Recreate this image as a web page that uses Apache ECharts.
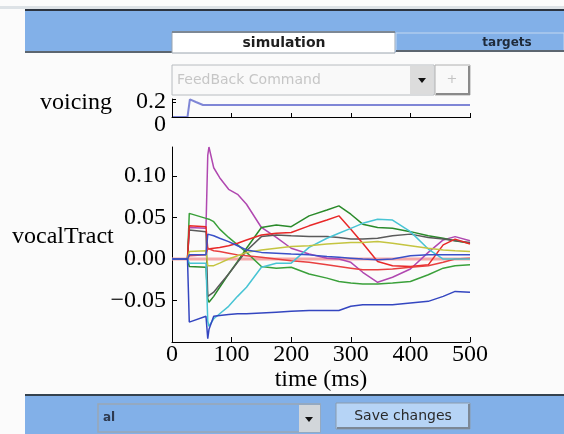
<!DOCTYPE html>
<html>
<head>
<meta charset="utf-8">
<script src="https://cdn.jsdelivr.net/npm/echarts@6/dist/echarts.min.js"></script>
<style>
  html, body { margin: 0; padding: 0; background: #fbfbfb; }
  #chart { width: 564px; height: 434px; }
</style>
</head>
<body>
<div id="chart"></div>
<script>
// time samples (ms) shared by the vocalTract traces
const timeMs = [0, 26, 29, 57, 60, 62, 70, 80, 95, 110, 125, 150, 175, 200, 230, 260, 280, 300, 320, 345, 370, 400, 430, 455, 475, 500];

const magenta = [0, 0, 0.038, 0.037, 0.125, 0.135, 0.110, 0.098, 0.084, 0.078, 0.066, 0.038, 0.026, 0.013, 0.006, 0.001, 0.0, -0.004, -0.016, -0.028, -0.022, -0.012, 0.008, 0.023, 0.027, 0.022];
const greenA  = [0, 0, 0.055, 0.049, 0.049, 0.048, 0.045, 0.036, 0.026, 0.017, 0.008, -0.009, -0.011, -0.010, -0.018, -0.023, -0.027, -0.029, -0.030, -0.030, -0.029, -0.027, -0.019, -0.011, -0.008, -0.007];
const greenB  = [0, 0, -0.009, -0.010, -0.048, -0.052, -0.045, -0.034, -0.018, -0.003, 0.013, 0.038, 0.041, 0.039, 0.052, 0.059, 0.064, 0.054, 0.042, 0.038, 0.037, 0.033, 0.028, 0.025, 0.022, 0.019];
const greyA   = [0, 0, 0.035, 0.033, -0.045, -0.047, -0.040, -0.031, -0.018, -0.004, 0.010, 0.027, 0.029, 0.028, 0.027, 0.027, 0.026, 0.024, 0.024, 0.025, 0.028, 0.030, 0.026, 0.024, 0.022, 0.020];
const redA    = [0, 0, 0.040, 0.039, 0.012, 0.012, 0.013, 0.014, 0.016, 0.019, 0.023, 0.029, 0.031, 0.032, 0.040, 0.047, 0.052, 0.036, 0.019, -0.003, -0.008, -0.009, -0.007, 0.017, 0.024, 0.018];
const redB    = [0, 0, 0.004, 0.005, 0.013, 0.012, 0.010, 0.009, 0.007, 0.005, 0.004, 0.002, 0.0, -0.002, -0.004, -0.007, -0.009, -0.011, -0.013, -0.013, -0.012, -0.010, -0.008, -0.004, 0.0, 0.001];
const cyanA   = [0, 0, -0.005, -0.005, -0.075, -0.081, -0.072, -0.066, -0.057, -0.045, -0.034, -0.010, -0.005, -0.005, 0.014, 0.025, 0.031, 0.037, 0.043, 0.048, 0.047, 0.033, 0.012, 0.0, 0.0, 0.0];
const oliveA  = [0, 0, 0.009, 0.010, -0.008, -0.010, -0.008, -0.005, 0.0, 0.004, 0.008, 0.011, 0.013, 0.015, 0.016, 0.018, 0.019, 0.020, 0.020, 0.021, 0.019, 0.016, 0.013, 0.011, 0.010, 0.009];
const blueA   = [0, 0, -0.076, -0.069, -0.096, -0.085, -0.069, -0.068, -0.067, -0.066, -0.066, -0.065, -0.064, -0.063, -0.062, -0.062, -0.062, -0.057, -0.055, -0.055, -0.055, -0.053, -0.051, -0.045, -0.039, -0.040];
const blueB   = [0, 0, 0.005, 0.005, 0.030, 0.031, 0.028, 0.025, 0.021, 0.016, 0.011, 0.008, 0.007, 0.006, 0.005, 0.003, 0.002, 0.001, 0.0, -0.001, 0.0, 0.004, 0.005, 0.005, 0.005, 0.005];

// target line at zero
const targetTime = [0, 500];
const targetValues = [0, 0];

// voicing trace
const voicingTime = [0, 26, 30, 40, 52, 500];
const voicingValues = [0, 0, 0.235, 0.2, 0.16, 0.16];

const xTicks = [0, 100, 200, 300, 400, 500];

const pair = (t, v) => t.map((x, i) => [x, v[i]]);

const traces = [
  { data: magenta, color: '#b048b0' },
  { data: greenA, color: '#3aa03a' },
  { data: greenB, color: '#2a8a2a' },
  { data: greyA, color: '#5a5a5a' },
  { data: redA, color: '#e82828' },
  { data: redB, color: '#e84040' },
  { data: cyanA, color: '#48c4d4' },
  { data: oliveA, color: '#c4c440' },
  { data: blueA, color: '#3446c0' },
  { data: blueB, color: '#3a50c8' }
];

const serif = 'Liberation Serif';
const blue = '#82b0e8';
const isNear = (a, b) => Math.abs(a - b) < 1e-9;

const chart = echarts.init(document.getElementById('chart'));

const series = [
  {
    type: 'line', xAxisIndex: 0, yAxisIndex: 0,
    data: pair(voicingTime, voicingValues),
    showSymbol: false, lineStyle: { color: '#7f86d6', width: 2 }, z: 3, animation: false
  },
  {
    type: 'line', xAxisIndex: 1, yAxisIndex: 1,
    data: pair(targetTime, targetValues),
    showSymbol: false, lineStyle: { color: '#f6a8a8', width: 3 }, z: 1, animation: false
  }
];
traces.forEach(tr => {
  series.push({
    type: 'line', xAxisIndex: 1, yAxisIndex: 1,
    data: pair(timeMs, tr.data),
    showSymbol: false,
    lineStyle: { color: tr.color, width: 1.5 },
    animation: false
  });
});

const option = {
  backgroundColor: '#fbfbfb',
  animation: false,
  grid: [
    { left: 172, right: 94, top: 99, height: 18 },
    { left: 172, right: 94, top: 147, height: 195 }
  ],
  xAxis: [
    {
      gridIndex: 0, type: 'value', min: 0, max: 500, interval: 100,
      axisLine: { show: true, onZero: false, lineStyle: { color: '#000', width: 1 } },
      axisTick: { show: true, inside: true, length: 4, lineStyle: { color: '#000' } },
      axisLabel: { show: false },
      splitLine: { show: false }
    },
    {
      gridIndex: 1, type: 'value', min: xTicks[0], max: xTicks[xTicks.length - 1], interval: 100,
      axisLine: { show: true, onZero: false, lineStyle: { color: '#000', width: 1 } },
      axisTick: { show: true, inside: true, length: 5, lineStyle: { color: '#000' } },
      axisLabel: { color: '#000', fontFamily: serif, fontSize: 24, margin: 1 },
      splitLine: { show: false },
      name: 'time (ms)', nameLocation: 'middle', nameGap: 26,
      nameTextStyle: { color: '#000', fontFamily: serif, fontSize: 24 }
    }
  ],
  yAxis: [
    // voicing axis, carries the 0.2 label
    {
      gridIndex: 0, type: 'value', min: 0, max: 0.24, interval: 0.2,
      axisLine: { show: true, onZero: false, lineStyle: { color: '#000', width: 1 } },
      axisTick: { show: true, inside: true, length: 4, lineStyle: { color: '#000' } },
      axisLabel: {
        showMaxLabel: true, showMinLabel: false, margin: 6,
        color: '#000', fontFamily: serif, fontSize: 24, padding: [6, 0, 0, 0],
        formatter: v => isNear(v, 0.2) ? '0.2' : ''
      },
      splitLine: { show: false }
    },
    {
      gridIndex: 1, type: 'value', min: -0.1, max: 0.135, interval: 0.05,
      axisLine: { show: true, onZero: false, lineStyle: { color: '#000', width: 1 } },
      axisTick: { show: true, inside: true, length: 5, lineStyle: { color: '#000' } },
      axisLabel: {
        color: '#000', fontFamily: serif, fontSize: 24, margin: 6,
        showMinLabel: false, showMaxLabel: false,
        formatter: v => (v < 0 ? '\u2212' : '') + Math.abs(v).toFixed(2)
      },
      splitLine: { show: false }
    },
    // same voicing scale, only used for the 0 label (sits a little lower, as in the original)
    {
      gridIndex: 0, type: 'value', min: 0, max: 0.24, interval: 0.2, position: 'left',
      axisLine: { show: false }, axisTick: { show: false },
      axisLabel: {
        showMinLabel: true, showMaxLabel: false, margin: 6,
        color: '#000', fontFamily: serif, fontSize: 24, verticalAlign: 'top', padding: [-4, 0, 0, 0],
        formatter: v => v === 0 ? '0' : ''
      },
      splitLine: { show: false }
    }
  ],
  graphic: [
    // top strip and tab bar
    { type: 'rect', shape: { x: 0, y: 6, width: 564, height: 3 }, style: { fill: '#dde2e6' } },
    { type: 'rect', shape: { x: 25, y: 9, width: 539, height: 2 }, style: { fill: '#2c3440' } },
    { type: 'rect', shape: { x: 25, y: 11, width: 539, height: 41 }, style: { fill: blue } },
    { type: 'rect', shape: { x: 25, y: 51, width: 148, height: 2 }, style: { fill: '#5c6670' } },
    { type: 'rect', shape: { x: 172, y: 32, width: 223, height: 21 }, style: { fill: '#ffffff', stroke: '#9aa4ae', lineWidth: 1 } },
    { type: 'rect', shape: { x: 172, y: 31, width: 223, height: 2 }, style: { fill: '#7d8894' } },
    { type: 'text', style: { text: 'simulation', x: 284, y: 43, align: 'center', verticalAlign: 'middle', fill: '#1e1e1e', font: 'bold 14px "DejaVu Sans"' } },
    { type: 'rect', shape: { x: 396, y: 33, width: 168, height: 18 }, style: { fill: blue, stroke: '#c4d8f0', lineWidth: 1 } },
    { type: 'rect', shape: { x: 396, y: 50, width: 168, height: 2 }, style: { fill: '#5c6670' } },
    { type: 'text', style: { text: 'targets', x: 507, y: 43, align: 'center', verticalAlign: 'middle', fill: '#1e2a3a', font: 'bold 12px "DejaVu Sans"' } },

    // feedback dropdown
    { type: 'rect', shape: { x: 172, y: 65, width: 262, height: 30 }, style: { fill: '#f9f9f9', stroke: '#b8bcc0', lineWidth: 1 } },
    { type: 'text', style: { text: 'FeedBack Command', x: 177, y: 80, align: 'left', verticalAlign: 'middle', fill: '#c6c6c6', font: '14px "DejaVu Sans"' } },
    { type: 'rect', shape: { x: 410, y: 66, width: 23, height: 28 }, style: { fill: '#dcdcdc' } },
    { type: 'polygon', shape: { points: [[418, 78], [426, 78], [422, 83]] }, style: { fill: '#111' } },
    { type: 'rect', shape: { x: 435, y: 65, width: 35, height: 30 }, style: { fill: '#f9f9f9', stroke: '#b0b0b0', lineWidth: 1 } },
    { type: 'rect', shape: { x: 468, y: 66, width: 2, height: 29 }, style: { fill: '#8a8a8a' } },
    { type: 'rect', shape: { x: 436, y: 93, width: 34, height: 2 }, style: { fill: '#8a8a8a' } },
    { type: 'text', style: { text: '+', x: 452, y: 80, align: 'center', verticalAlign: 'middle', fill: '#c4c4c4', font: '13px "DejaVu Sans"' } },

    // voicing axes frame (left stub and baseline)
    { type: 'rect', z: 5, shape: { x: 172, y: 102, width: 1, height: 16 }, style: { fill: '#000' } },
    { type: 'rect', z: 5, shape: { x: 172, y: 117, width: 299, height: 1 }, style: { fill: '#000' } },

    // axis titles on the left
    { type: 'text', style: { text: 'voicing', x: 40, y: 103, align: 'left', verticalAlign: 'middle', fill: '#000', font: '24px "Liberation Serif"' } },
    { type: 'text', style: { text: 'vocalTract', x: 12, y: 237, align: 'left', verticalAlign: 'middle', fill: '#000', font: '24px "Liberation Serif"' } },

    // bottom bar
    { type: 'rect', shape: { x: 25, y: 394, width: 539, height: 2 }, style: { fill: '#34424e' } },
    { type: 'rect', shape: { x: 25, y: 396, width: 539, height: 38 }, style: { fill: blue } },
    { type: 'rect', shape: { x: 98, y: 404, width: 222, height: 28 }, style: { fill: blue, stroke: '#9aa6b4', lineWidth: 1.5 } },
    { type: 'text', style: { text: 'al', x: 103, y: 418, align: 'left', verticalAlign: 'middle', fill: '#2e3a50', font: 'bold 12px "DejaVu Sans"' } },
    { type: 'rect', shape: { x: 299, y: 405, width: 21, height: 27 }, style: { fill: '#d2d6da' } },
    { type: 'polygon', shape: { points: [[305, 417], [313, 417], [309, 422]] }, style: { fill: '#111' } },
    { type: 'rect', shape: { x: 336, y: 403, width: 134, height: 26 }, style: { fill: '#b6d4f6', stroke: '#8c9cac', lineWidth: 1 } },
    { type: 'rect', shape: { x: 468, y: 404, width: 2, height: 25 }, style: { fill: '#7c8896' } },
    { type: 'rect', shape: { x: 337, y: 427, width: 133, height: 2 }, style: { fill: '#7c8896' } },
    { type: 'text', style: { text: 'Save changes', x: 403, y: 416, align: 'center', verticalAlign: 'middle', fill: '#2a2a2a', font: '14px "DejaVu Sans"' } }
  ],
  series: series
};

chart.setOption(option);
</script>
</body>
</html>
